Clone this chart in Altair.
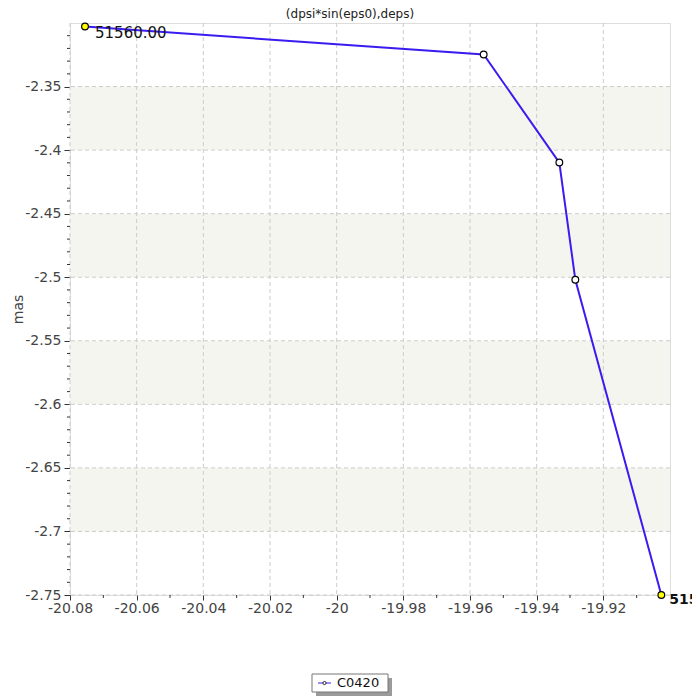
import altair as alt
import pandas as pd

title_text = "(dpsi*sin(eps0),deps)"
y_title = "mas"
series_name = "C0420"

x_vals = [-20.0755, -19.9559, -19.9332, -19.9284, -19.9026]
y_vals = [-2.3028, -2.3248, -2.4098, -2.5020, -2.7500]
is_end = [True, False, False, False, True]
point_labels = ["51560.00", "", "", "", "515"]

x_major = [-20.08, -20.06, -20.04, -20.02, -20.0, -19.98, -19.96, -19.94, -19.92]
x_minor = [-20.07, -20.05, -20.03, -20.01, -19.99, -19.97, -19.95, -19.93, -19.91]
y_major = [-2.75, -2.7, -2.65, -2.6, -2.55, -2.5, -2.45, -2.4, -2.35]
y_minor = [-2.74, -2.73, -2.72, -2.71, -2.69, -2.68, -2.67, -2.66,
           -2.64, -2.63, -2.62, -2.61, -2.59, -2.58, -2.57, -2.56,
           -2.54, -2.53, -2.52, -2.51, -2.49, -2.48, -2.47, -2.46,
           -2.44, -2.43, -2.42, -2.41, -2.39, -2.38, -2.37, -2.36,
           -2.34, -2.33, -2.32, -2.31]
band_lo = [-2.40, -2.50, -2.60, -2.70]
band_hi = [-2.35, -2.45, -2.55, -2.65]
x_domain = [-20.08, -19.90]
y_domain = [-2.75, -2.30]

W, H = 600, 572
FONT = "DejaVu Sans"

df = pd.DataFrame({"x": x_vals, "y": y_vals, "end": is_end, "label": point_labels,
                   "idx": list(range(len(x_vals)))})
df_bands = pd.DataFrame({"lo": band_lo, "hi": band_hi})
df_xg = pd.DataFrame({"x": x_major})
df_xm = pd.DataFrame({"x": x_minor})
df_yg = pd.DataFrame({"y": y_major})
df_ym = pd.DataFrame({"y": y_minor})
df_one = pd.DataFrame({"name": [series_name], "title": [title_text]})

xs = alt.Scale(domain=x_domain, nice=False, zero=False)
ys = alt.Scale(domain=y_domain, nice=False, zero=False)

x_axis = alt.Axis(values=x_major, grid=False, domain=False,
                  labelExpr="replace(format(datum.value, '.4~g'), '\u2212', '-')",
                  tickColor="#333", tickSize=5, labelFontSize=14, labelFont=FONT,
                  labelColor="#444", labelPadding=1, labelFlush=False)
y_axis = alt.Axis(values=y_major, grid=False, domain=False,
                  labelExpr="replace(format(datum.value, '.3~g'), '\u2212', '-')",
                  tickColor="#333", tickSize=6, labelFontSize=14, labelFont=FONT,
                  labelColor="#444", labelPadding=3, title=y_title,
                  titleFont=FONT, titleFontSize=14, titleFontWeight="normal",
                  titleColor="#444", titleX=-52, titleY=H / 2, titleBaseline="middle",
                  titleAngle=-90)

X = alt.X("x:Q", scale=xs, axis=x_axis, title=None)
Y = alt.Y("y:Q", scale=ys, axis=y_axis)

bands = alt.Chart(df_bands).mark_rect(color="#f5f5f0").encode(
    y=alt.Y("lo:Q", scale=ys, axis=y_axis), y2="hi:Q")

xgrid = alt.Chart(df_xg).mark_rule(color="#cccccc", strokeDash=[4, 3], strokeWidth=1).encode(x=X)
ygrid = alt.Chart(df_yg).mark_rule(color="#cccccc", strokeDash=[4, 3], strokeWidth=1).encode(y=Y)

xminor = alt.Chart(df_xm).mark_rule(color="#333", strokeWidth=1).encode(
    x=X, y=alt.value(H), y2=alt.value(H + 3))
yminor = alt.Chart(df_ym).mark_rule(color="#333", strokeWidth=1).encode(
    y=Y, x=alt.value(-3), x2=alt.value(0))

line = alt.Chart(df).mark_line(color="#3a1cf0", strokeWidth=2).encode(
    x=X, y=Y, order="idx:O")

points = alt.Chart(df).mark_point(filled=True, size=45, stroke="black", strokeWidth=1.2,
                                  opacity=1).encode(
    x=X, y=Y,
    fill=alt.condition("datum.end", alt.value("#ffff00"), alt.value("white")))

lab1 = alt.Chart(df).transform_filter("datum.idx == 0").mark_text(
    align="left", baseline="middle", dx=10, dy=6, fontSize=15, font=FONT,
    color="#111").encode(x=X, y=Y, text="label:N")
lab2 = alt.Chart(df).transform_filter("datum.idx == 4").mark_text(
    align="left", baseline="middle", dx=8, dy=5, fontSize=14, font=FONT,
    fontWeight="bold", color="#111").encode(x=X, y=Y, text="label:N")

title = alt.Chart(df_one).mark_text(fontSize=12, font=FONT, color="#222",
                                    baseline="middle", align="center").encode(
    x=alt.value(280), y=alt.value(-9), text="title:N")

# legend
lg_shadow = alt.Chart(df_one).mark_rect(color="#9a9a9a").encode(
    x=alt.value(246), x2=alt.value(322), y=alt.value(655), y2=alt.value(673))
lg_box = alt.Chart(df_one).mark_rect(fill="white", stroke="#777", strokeWidth=1).encode(
    x=alt.value(242), x2=alt.value(318), y=alt.value(651), y2=alt.value(669))
lg_line = alt.Chart(df_one).mark_rule(color="#3a1cf0", strokeWidth=1).encode(
    x=alt.value(248), x2=alt.value(261), y=alt.value(660))
lg_pt = alt.Chart(df_one).mark_point(filled=True, fill="white", stroke="black",
                                     strokeWidth=0.8, size=10, opacity=1).encode(
    x=alt.value(254.5), y=alt.value(660))
lg_text = alt.Chart(df_one).mark_text(align="left", baseline="middle", fontSize=13,
                                      font=FONT, color="#111").encode(
    x=alt.value(267), y=alt.value(660), text="name:N")

chart = alt.layer(bands, xgrid, ygrid, xminor, yminor, line, points, lab1, lab2, title,
                  lg_shadow, lg_box, lg_line, lg_pt, lg_text).properties(
    width=W, height=H,
    autosize=alt.AutoSizeParams(type="none"),
    padding={"left": 62, "top": 15, "right": 22, "bottom": 101},
).configure_view(stroke="#cccccc", strokeWidth=1).configure(background="white")

chart.save("out.html", embed_options={"renderer": "svg", "actions": False})
